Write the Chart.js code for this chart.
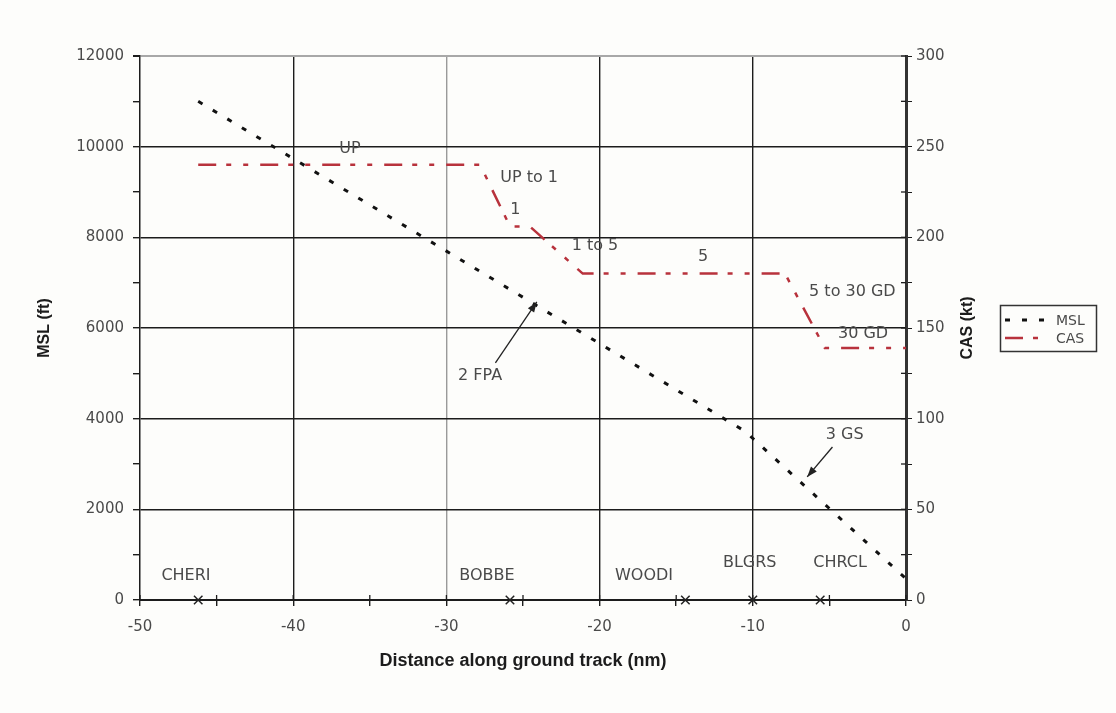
<!DOCTYPE html>
<html>
<head>
<meta charset="utf-8">
<script src="https://cdn.jsdelivr.net/npm/chart.js@4.4.1/dist/chart.umd.min.js"></script>
<style>
  html, body { margin: 0; padding: 0; background: #fdfdfb; }
  #wrap { width: 1116px; height: 713px; position: relative; }
</style>
</head>
<body>
<div id="wrap"><canvas id="chart" width="1116" height="713"></canvas></div>
<script>
// altitude profile: distance (nm) vs MSL (ft)
const mslX = [-46.2, -10.5, 0];
const mslY = [11000, 3720, 470];

// calibrated airspeed (kt), flap schedule
const casX = [-46.2, -27.8, -25.85, -24.55, -21.1, -7.9, -5.3, 0];
const casY = [240, 240, 206, 206, 180, 180, 139, 139];

// waypoints on the ground track
const waypointNames = ["CHERI", "BOBBE", "WOODI", "BLGRS", "CHRCL"];
const waypointX = [-46.2, -25.85, -14.4, -10, -5.6];
const waypointLabelX = [-47.0, -27.35, -17.1, -10.2, -4.3];
const waypointLabelY = [530, 530, 530, 815, 815];

// notes on the plot, in (nm, ft)
const noteText = ["UP", "UP to 1", "1", "1 to 5", "5", "5 to 30 GD", "30 GD", "2 FPA", "3 GS"];
const noteX = [-36.3, -24.6, -25.5, -20.3, -13.25, -3.5, -2.8, -27.8, -4.0];
const noteY = [9950, 9310, 8600, 7810, 7570, 6795, 5870, 4940, 3640];

// arrows from the "2 FPA" and "3 GS" notes to the path
const arrowFrom = [[-26.8, 5230], [-4.8, 3375]];
const arrowTo = [[-24.1, 6575], [-6.45, 2715]];

const xTickLabels = [-50, -40, -30, -20, -10, 0];
const mslTickLabels = [0, 2000, 4000, 6000, 8000, 10000, 12000];
const casTickLabels = [0, 50, 100, 150, 200, 250, 300];

const ink = "#1c1c1c";
const textGray = "#4a4a4a";
const mslDash = [5, 12];
const casDash = [18, 10, 5, 12, 5, 12];
const casColor = "#b8323c";

function zip(xs, ys) {
  return xs.map(function(x, i) { return { x: x, y: ys[i] }; });
}

const overlay = {
  id: "overlay",
  beforeDatasetsDraw(chart) {
    // inner half of the tick marks on the bottom and right axes
    const ctx = chart.ctx;
    const x = chart.scales.x, y1 = chart.scales.y1;
    const area = chart.chartArea;
    ctx.save();
    ctx.strokeStyle = ink;
    ctx.lineWidth = 1.3;
    x.ticks.forEach(function(t) {
      const px = x.getPixelForValue(t.value);
      ctx.beginPath(); ctx.moveTo(px, area.bottom - 5); ctx.lineTo(px, area.bottom); ctx.stroke();
    });
    y1.ticks.forEach(function(t) {
      const py = y1.getPixelForValue(t.value);
      ctx.beginPath(); ctx.moveTo(area.right - 5, py); ctx.lineTo(area.right, py); ctx.stroke();
    });
    ctx.restore();
  },
  afterDraw(chart) {
    const ctx = chart.ctx;
    const x = chart.scales.x, y = chart.scales.y;
    ctx.save();
    ctx.fillStyle = textGray;
    ctx.font = "16px 'DejaVu Sans'";
    ctx.textAlign = "center";
    ctx.textBaseline = "middle";
    noteText.forEach(function(t, i) {
      ctx.fillText(t, x.getPixelForValue(noteX[i]), y.getPixelForValue(noteY[i]));
    });
    waypointNames.forEach(function(t, i) {
      ctx.fillText(t, x.getPixelForValue(waypointLabelX[i]), y.getPixelForValue(waypointLabelY[i]));
    });

    // arrows
    ctx.strokeStyle = "#222";
    ctx.fillStyle = "#222";
    ctx.lineWidth = 1.3;
    arrowFrom.forEach(function(f, i) {
      const x0 = x.getPixelForValue(f[0]), y0 = y.getPixelForValue(f[1]);
      const x1 = x.getPixelForValue(arrowTo[i][0]), y1 = y.getPixelForValue(arrowTo[i][1]);
      const a = Math.atan2(y1 - y0, x1 - x0);
      ctx.beginPath(); ctx.moveTo(x0, y0); ctx.lineTo(x1, y1); ctx.stroke();
      ctx.beginPath();
      ctx.moveTo(x1, y1);
      ctx.lineTo(x1 - 11 * Math.cos(a - 0.35), y1 - 11 * Math.sin(a - 0.35));
      ctx.lineTo(x1 - 11 * Math.cos(a + 0.35), y1 - 11 * Math.sin(a + 0.35));
      ctx.closePath(); ctx.fill();
    });

    // right axis title, reading bottom to top like the left one
    ctx.fillStyle = ink;
    ctx.font = "bold 16px 'Liberation Sans'";
    ctx.translate(968, (chart.chartArea.top + chart.chartArea.bottom) / 2);
    ctx.rotate(-Math.PI / 2);
    ctx.fillText("CAS (kt)", 0, 0);
    ctx.restore();

    // legend box
    ctx.save();
    ctx.strokeStyle = "#333";
    ctx.lineWidth = 1.5;
    ctx.strokeRect(1000.5, 305.5, 96, 46);
    ctx.font = "14px 'DejaVu Sans'";
    ctx.textBaseline = "middle";
    ctx.fillStyle = textGray;
    chart.data.datasets.slice(0, 2).forEach(function(ds, i) {
      const ly = 320 + i * 18;
      ctx.strokeStyle = ds.borderColor;
      ctx.lineWidth = ds.borderWidth;
      ctx.setLineDash(ds.borderDash);
      ctx.beginPath(); ctx.moveTo(1005, ly); ctx.lineTo(1050, ly); ctx.stroke();
      ctx.setLineDash([]);
      ctx.fillText(ds.label, 1056, ly + 1);
    });
    ctx.restore();
  }
};

new Chart(document.getElementById("chart"), {
  type: "scatter",
  data: {
    datasets: [
      {
        label: "MSL",
        data: zip(mslX, mslY),
        yAxisID: "y",
        showLine: true,
        borderColor: "#111",
        borderWidth: 3,
        borderDash: mslDash,
        pointRadius: 0,
        tension: 0
      },
      {
        label: "CAS",
        data: zip(casX, casY),
        yAxisID: "y1",
        showLine: true,
        borderColor: casColor,
        borderWidth: 2.5,
        borderDash: casDash,
        pointRadius: 0,
        tension: 0
      },
      {
        label: "waypoints",
        data: waypointX.map(function(v) { return { x: v, y: 0 }; }),
        yAxisID: "y",
        pointStyle: "crossRot",
        pointRadius: 6,
        borderColor: "#222",
        borderWidth: 1.5,
        clip: false
      }
    ]
  },
  options: {
    responsive: false,
    animation: false,
    devicePixelRatio: 1,
    layout: { padding: { top: 56, left: 0, right: 0, bottom: 0 } },
    plugins: { legend: { display: false }, tooltip: { enabled: false } },
    scales: {
      x: {
        type: "linear",
        min: -50,
        max: 0,
        afterFit: function(s) { s.height = 113; },
        border: { color: ink, width: 2 },
        grid: {
          color: function(c) {
            const v = c.tick.value;
            if (v === -50 || v === 0 || v % 10 !== 0) return "transparent";
            return v === -30 ? "#9a9a9a" : ink;
          },
          lineWidth: 1.4,
          tickColor: ink,
          tickLength: 6
        },
        ticks: {
          stepSize: 5,
          autoSkip: false,
          maxRotation: 0,
          padding: 12,
          color: textGray,
          font: { family: "DejaVu Sans", size: 15 },
          callback: function(v) { return xTickLabels.includes(v) ? v : ""; }
        },
        title: {
          display: true,
          text: "Distance along ground track (nm)",
          color: ink,
          font: { family: "Liberation Sans", size: 18, weight: "bold" },
          padding: { top: 0, bottom: 41 }
        }
      },
      y: {
        position: "left",
        min: 0,
        max: 12000,
        afterFit: function(s) { s.width = 140; },
        border: { color: ink, width: 1.5 },
        grid: {
          color: function(c) {
            const v = c.tick.value;
            if (v === 0 || v % 2000 !== 0) return "transparent";
            return v === 12000 ? "#a8a8a8" : ink;
          },
          lineWidth: function(c) { return c.tick.value === 12000 ? 2 : 1.4; },
          tickColor: ink,
          tickLength: 7
        },
        ticks: {
          stepSize: 1000,
          autoSkip: false,
          padding: 9,
          color: textGray,
          font: { family: "DejaVu Sans", size: 15 },
          callback: function(v) { return mslTickLabels.includes(v) ? v : ""; }
        },
        title: {
          display: true,
          text: "MSL (ft)",
          color: ink,
          font: { family: "Liberation Sans", size: 16, weight: "bold" },
          padding: { top: 35, bottom: 0 }
        }
      },
      y1: {
        position: "right",
        min: 0,
        max: 300,
        afterFit: function(s) { s.width = 210; },
        border: { color: "#333", width: 3 },
        grid: { drawOnChartArea: false, tickColor: ink, tickLength: 6 },
        ticks: {
          stepSize: 25,
          autoSkip: false,
          padding: 4,
          color: textGray,
          font: { family: "DejaVu Sans", size: 15 },
          callback: function(v) { return casTickLabels.includes(v) ? v : ""; }
        }
      }
    }
  },
  plugins: [overlay]
});
</script>
</body>
</html>
